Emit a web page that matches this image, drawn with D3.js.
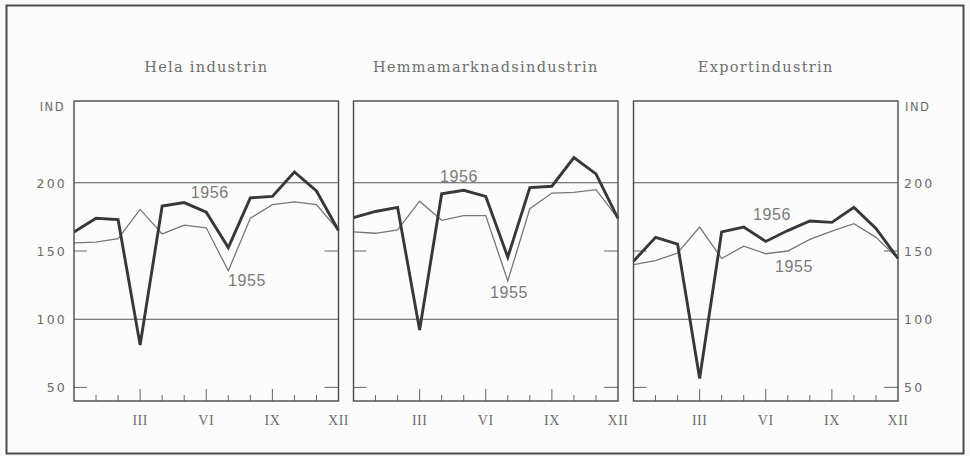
<!DOCTYPE html>
<html>
<head>
<meta charset="utf-8">
<script src="https://cdn.jsdelivr.net/npm/d3@7"></script>
<style>
  body { margin: 0; background: #fafafa; }
  svg { display: block; }
</style>
</head>
<body>
<div id="chart"></div>
<script>
/* Industriproduktion 1955 och 1956, index per manad */

var titles = ["Hela industrin", "Hemmamarknadsindustrin", "Exportindustrin"];
var months = d3.range(13); // index 0 = dec foregaende ar
var monthLabels = {3: "III", 6: "VI", 9: "IX", 12: "XII"};
var yTicks = [50, 100, 150, 200];
var gridValues = [100, 200];

var hela1956 = [164, 174, 173, 81, 183, 185.5, 178.5, 152.5, 189, 190, 208, 194, 165];
var hela1955 = [156, 156.5, 159, 180.5, 162.5, 169, 167, 135.5, 174, 184, 186, 184, 165];

var hemma1956 = [174.5, 179, 182, 92, 192, 194.5, 190, 145.5, 196.5, 197.5, 218.5, 206.5, 174];
var hemma1955 = [164, 163, 165.5, 186.5, 172.5, 176, 176, 128, 181, 192.5, 193, 195, 174];

var export1956 = [142.5, 160, 155, 56.5, 164, 167.5, 157, 165, 172, 171, 182, 166.5, 144.5];
var export1955 = [140, 143, 148.5, 167.5, 144.5, 153.5, 148, 150, 158.5, 164.5, 170, 160, 144.5];

var series1956 = [hela1956, hemma1956, export1956];
var series1955 = [hela1955, hemma1955, export1955];

// placering av arsetiketter i varje panel (index, varde)
var label1956 = [[5.3, 189], [3.92, 200.5], [5.42, 172.7]];
var label1955 = [[6.99, 124.3], [6.19, 115.5], [6.42, 134.6]];

var width = 970, height = 456;
var panelX = [74, 353.5, 633.5];
var panelW = 264.5;
var panelTop = 101, panelBottom = 401;

var svg = d3.select("#chart")
  .append("svg")
  .attr("width", width)
  .attr("height", height);

svg.append("rect")
  .attr("x", 6.5).attr("y", 5.5)
  .attr("width", 957).attr("height", 448)
  .attr("fill", "#fcfcfc")
  .attr("stroke", "#4a4a4a")
  .attr("stroke-width", 2);

var y = d3.scaleLinear().domain([40, 260]).range([panelBottom, panelTop]);

titles.forEach(function(title, p) {
  var x = d3.scaleLinear().domain([0, 12]).range([panelX[p], panelX[p] + panelW]);
  var g = svg.append("g").attr("class", "panel");

  g.append("text")
    .attr("x", panelX[p] + panelW / 2)
    .attr("y", 72)
    .attr("text-anchor", "middle")
    .style("font-family", "'DejaVu Serif', serif")
    .style("font-size", "14.5px")
    .style("letter-spacing", "1.3px")
    .style("fill", "#6e6e6e")
    .text(title);

  // gridlines 100, 200
  g.selectAll(".grid")
    .data(gridValues)
    .enter().append("line")
    .attr("x1", x(0)).attr("x2", x(12))
    .attr("y1", function(d) { return y(d); })
    .attr("y2", function(d) { return y(d); })
    .attr("stroke", "#555")
    .attr("stroke-width", 1.1);

  // short side ticks at 50, 150
  [50, 150].forEach(function(v) {
    g.append("line")
      .attr("x1", x(0)).attr("x2", x(0) + 13)
      .attr("y1", y(v)).attr("y2", y(v))
      .attr("stroke", "#666").attr("stroke-width", 1);
    g.append("line")
      .attr("x1", x(12) - 14).attr("x2", x(12))
      .attr("y1", y(v)).attr("y2", y(v))
      .attr("stroke", "#666").attr("stroke-width", 1);
  });

  // month ticks
  g.selectAll(".mtick")
    .data(months.slice(1, 12))
    .enter().append("line")
    .attr("x1", function(d) { return x(d); })
    .attr("x2", function(d) { return x(d); })
    .attr("y1", panelBottom)
    .attr("y2", function(d) { return d % 3 == 0 ? panelBottom - 12 : panelBottom - 6; })
    .attr("stroke", "#666")
    .attr("stroke-width", 1);

  g.selectAll(".mlabel")
    .data(Object.keys(monthLabels))
    .enter().append("text")
    .attr("x", function(d) { return x(+d); })
    .attr("y", 425)
    .attr("text-anchor", "middle")
    .style("font-family", "'Liberation Serif', serif")
    .style("font-size", "14px")
    .style("letter-spacing", "0.5px")
    .style("fill", "#6e6e6e")
    .text(function(d) { return monthLabels[d]; });

  var line = d3.line()
    .x(function(d, i) { return x(i); })
    .y(function(d) { return y(d); });

  g.append("path")
    .datum(series1955[p])
    .attr("d", line)
    .attr("fill", "none")
    .attr("stroke", "#777")
    .attr("stroke-width", 1.3)
    .attr("stroke-linejoin", "miter");

  g.append("path")
    .datum(series1956[p])
    .attr("d", line)
    .attr("fill", "none")
    .attr("stroke", "#383838")
    .attr("stroke-width", 2.9)
    .attr("stroke-linejoin", "miter");

  [[label1956[p], "1956"], [label1955[p], "1955"]].forEach(function(l) {
    g.append("text")
      .attr("x", x(l[0][0]))
      .attr("y", y(l[0][1]))
      .style("font-family", "'Liberation Sans', sans-serif")
      .style("font-size", "16px")
      .style("letter-spacing", "0.6px")
      .style("fill", "#7a7a7a")
      .text(l[1]);
  });

  // panel frame
  g.append("rect")
    .attr("x", x(0)).attr("y", panelTop)
    .attr("width", panelW).attr("height", panelBottom - panelTop)
    .attr("fill", "none")
    .attr("stroke", "#4a4a4a")
    .attr("stroke-width", 1.4);
});

// y axis labels, left and right
var axisSides = [{x: 67, anchor: "end"}, {x: 904, anchor: "start"}];
axisSides.forEach(function(s) {
  svg.selectAll(null)
    .data(yTicks)
    .enter().append("text")
    .attr("x", s.x)
    .attr("y", function(d) { return y(d) + 5; })
    .attr("text-anchor", s.anchor)
    .style("font-family", "'DejaVu Sans', sans-serif")
    .style("font-size", "12.5px")
    .style("letter-spacing", "2.2px")
    .style("fill", "#6a6a6a")
    .text(function(d) { return d; });

  svg.append("text")
    .attr("x", s.anchor == "end" ? s.x - 2 : s.x + 1)
    .attr("y", 111)
    .attr("text-anchor", s.anchor)
    .style("font-family", "'DejaVu Sans', sans-serif")
    .style("font-size", "11.5px")
    .style("letter-spacing", "1.5px")
    .style("fill", "#6a6a6a")
    .text("IND");
});
</script>
</body>
</html>
